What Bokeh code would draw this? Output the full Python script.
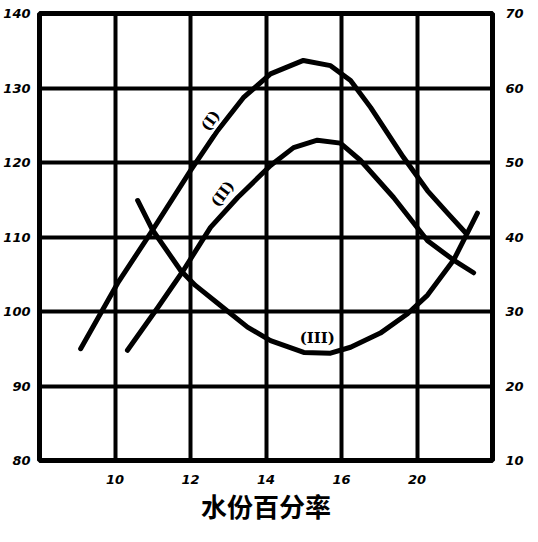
from bokeh.plotting import figure
from bokeh.models import Range1d, LinearAxis, FixedTicker, Label
from bokeh.embed import file_html
from bokeh.resources import INLINE

# ---- data ----
x_ticks = [10, 12, 14, 16, 18]
x_tick_labels = ["10", "12", "14", "16", "20"]
left_ticks = [80, 90, 100, 110, 120, 130, 140]
right_ticks = [10, 20, 30, 40, 50, 60, 70]

curve1_x = [9.09, 10.07, 10.99, 12.0, 12.72, 13.40, 14.12, 14.99, 15.71, 16.24, 16.77, 17.64, 18.28, 18.81, 19.28]
curve1_y = [95.0, 103.8, 110.9, 118.9, 124.3, 128.7, 131.9, 133.7, 133.0, 131.0, 127.4, 120.7, 116.2, 113.2, 110.6]

curve2_x = [10.33, 11.13, 11.81, 12.53, 13.25, 14.12, 14.73, 15.36, 15.97, 16.50, 17.38, 18.28, 18.97, 19.50]
curve2_y = [94.8, 100.5, 105.5, 111.3, 115.3, 119.6, 122.0, 123.0, 122.6, 120.3, 115.3, 109.5, 106.9, 105.2]

curve3_x = [10.60, 11.0, 11.74, 12.13, 12.72, 13.51, 14.12, 15.0, 15.71, 16.24, 17.03, 17.75, 18.28, 18.97, 19.60]
curve3_y = [44.9, 40.9, 35.5, 33.5, 31.1, 27.9, 26.1, 24.5, 24.4, 25.2, 27.1, 29.7, 32.2, 36.9, 43.2]

curve_names = ["(I)", "(II)", "(III)"]
x_label = "水份百分率"

# ---- figure ----
p = figure(frame_width=453, frame_height=447, x_range=Range1d(8, 20), y_range=Range1d(80, 140),
           output_backend="svg", toolbar_location=None,
           min_border_left=31, min_border_right=38, min_border_top=13, min_border_bottom=62)
p.extra_y_ranges = {"right": Range1d(10, 70)}
p.background_fill_color = "white"
p.border_fill_color = "white"
p.outline_line_color = "black"
p.outline_line_width = 5
p.outline_line_alpha = 1

font = "DejaVu Sans"

def style_axis(ax):
    ax.axis_line_color = None
    ax.major_tick_line_color = None
    ax.minor_tick_line_color = None
    ax.major_label_text_font = font
    ax.major_label_text_font_style = "bold italic"
    ax.major_label_text_font_size = "13px"
    ax.major_label_text_color = "black"

p.xaxis.ticker = FixedTicker(ticks=x_ticks)
p.xaxis.major_label_overrides = {t: l for t, l in zip(x_ticks, x_tick_labels)}
p.xaxis.major_label_standoff = 8
p.xaxis.axis_label = x_label
p.xaxis.axis_label_text_font = "Noto Sans CJK SC"
p.xaxis.axis_label_text_font_style = "bold"
p.xaxis.axis_label_text_font_size = "26px"
p.xaxis.axis_label_text_color = "black"
p.xaxis.axis_label_standoff = 0
style_axis(p.xaxis[0])

p.yaxis.ticker = FixedTicker(ticks=left_ticks)
p.yaxis.major_label_standoff = 3
style_axis(p.yaxis[0])

rax = LinearAxis(y_range_name="right", ticker=FixedTicker(ticks=right_ticks))
rax.major_label_standoff = 7
style_axis(rax)
p.add_layout(rax, "right")

p.xgrid.ticker = FixedTicker(ticks=x_ticks)
p.ygrid.ticker = FixedTicker(ticks=left_ticks[1:-1])
for g in (p.xgrid, p.ygrid):
    g.grid_line_color = "black"
    g.grid_line_width = 4
    g.grid_line_alpha = 1

p.line(curve1_x, curve1_y, line_color="black", line_width=5, line_cap="round", line_join="round")
p.line(curve2_x, curve2_y, line_color="black", line_width=5, line_cap="round", line_join="round")
p.line(curve3_x, curve3_y, y_range_name="right", line_color="black", line_width=5,
       line_cap="round", line_join="round")

lab_style = dict(text_font="DejaVu Serif", text_font_style="bold", text_font_size="15px",
                 text_color="black", text_align="center", text_baseline="middle",
                 background_fill_color="white")
p.add_layout(Label(x=12.53, y=125.6, text=curve_names[0], angle=0.95, **lab_style))
p.add_layout(Label(x=12.85, y=115.8, text=curve_names[1], angle=0.93, **lab_style))
p.add_layout(Label(x=15.36, y=26.4, y_range_name="right", text=curve_names[2], **lab_style))

open("out.html", "w").write(file_html(p, INLINE))
